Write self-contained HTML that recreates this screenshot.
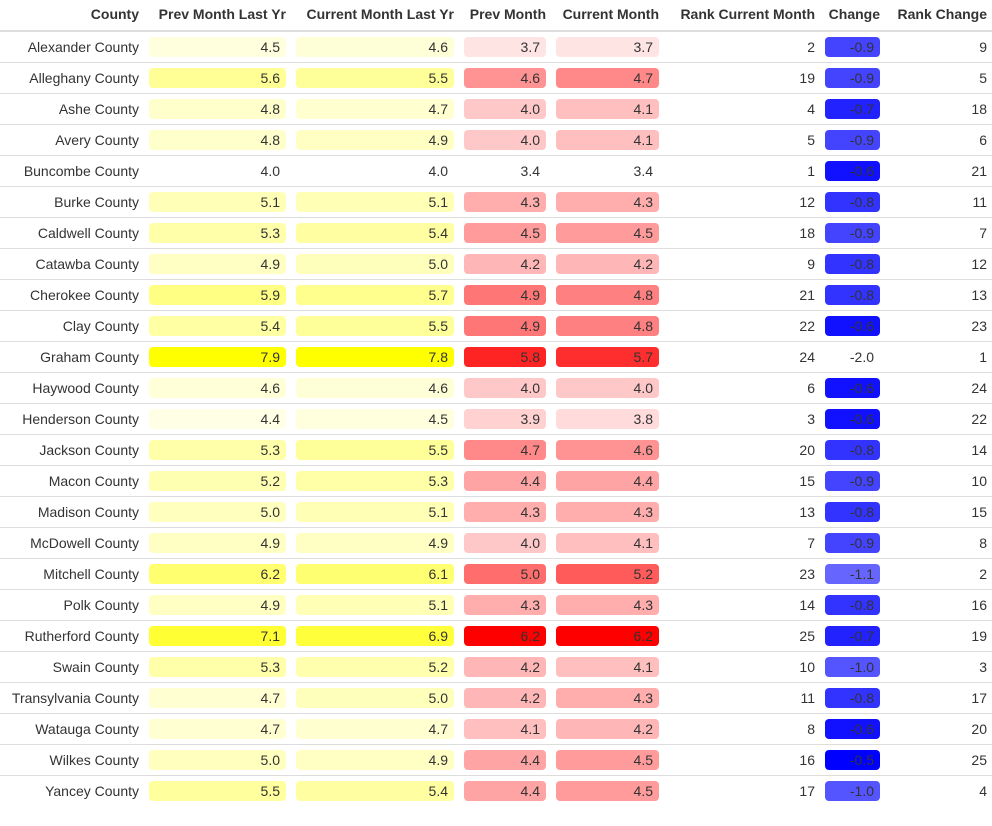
<!DOCTYPE html>
<html><head><meta charset="utf-8">
<style>
body{margin:0;width:992px;height:826px;background:#fff;font-family:"Liberation Sans",Arial,sans-serif;font-size:14px;color:#333;position:relative;overflow:hidden}
.h{position:absolute;top:6px;font-weight:bold;text-align:right;white-space:nowrap}
.c{position:absolute;text-align:right;white-space:nowrap;height:20px;line-height:20px;box-sizing:border-box;padding-right:6px;border-radius:4px}
.line{position:absolute;left:0;width:992px;height:1px;background:#ddd}
</style></head><body>
<div id="tbl"></div>
<script>
const counties=["Alexander County","Alleghany County","Ashe County","Avery County","Buncombe County","Burke County","Caldwell County","Catawba County","Cherokee County","Clay County","Graham County","Haywood County","Henderson County","Jackson County","Macon County","Madison County","McDowell County","Mitchell County","Polk County","Rutherford County","Swain County","Transylvania County","Watauga County","Wilkes County","Yancey County"];
const prevMonthLastYr=[4.5,5.6,4.8,4.8,4.0,5.1,5.3,4.9,5.9,5.4,7.9,4.6,4.4,5.3,5.2,5.0,4.9,6.2,4.9,7.1,5.3,4.7,4.7,5.0,5.5];
const currMonthLastYr=[4.6,5.5,4.7,4.9,4.0,5.1,5.4,5.0,5.7,5.5,7.8,4.6,4.5,5.5,5.3,5.1,4.9,6.1,5.1,6.9,5.2,5.0,4.7,4.9,5.4];
const prevMonth=[3.7,4.6,4.0,4.0,3.4,4.3,4.5,4.2,4.9,4.9,5.8,4.0,3.9,4.7,4.4,4.3,4.0,5.0,4.3,6.2,4.2,4.2,4.1,4.4,4.4];
const currMonth=[3.7,4.7,4.1,4.1,3.4,4.3,4.5,4.2,4.8,4.8,5.7,4.0,3.8,4.6,4.4,4.3,4.1,5.2,4.3,6.2,4.1,4.3,4.2,4.5,4.5];
const rankCurr=[2,19,4,5,1,12,18,9,21,22,24,6,3,20,15,13,7,23,14,25,10,11,8,16,17];
const change=[-0.9,-0.9,-0.7,-0.9,-0.6,-0.8,-0.9,-0.8,-0.8,-0.6,-2.0,-0.6,-0.6,-0.8,-0.9,-0.8,-0.9,-1.1,-0.8,-0.7,-1.0,-0.8,-0.6,-0.5,-1.0];
const rankChange=[9,5,18,6,21,11,7,12,13,23,1,24,22,14,10,15,8,2,16,19,3,17,20,25,4];

const tbl=document.getElementById('tbl');
function add(cls,x,y,w,txt,bg,name){
  const d=document.createElement('div');
  d.className=cls;d.style.left=x+'px';d.style.top=y+'px';d.style.width=w+'px';
  if(bg)d.style.background=bg;
  d.textContent=txt;
  
  
  tbl.appendChild(d);return d;
}
const heads=[["County",0,139],["Prev Month Last Yr",149,286],["Current Month Last Yr",296,454],["Prev Month",464,546],["Current Month",556,659],["Rank Current Month",669,815],["Change",825,880],["Rank Change",890,987]];
heads.forEach(h=>{add('h',h[1],6,h[2]-h[1],h[0],null,'header-'+h[0].toLowerCase().replace(/ /g,'-'));});
const hl=document.createElement('div');hl.className='line';hl.style.top='30px';hl.style.height='2px';


tbl.appendChild(hl);
function scale(arr,v,rgb){
  const mn=Math.min(...arr),mx=Math.max(...arr);const t=(v-mn)/(mx-mn);
  if(t<=0)return null;
  const c=rgb.map(k=>Math.round(255+(k-255)*t));
  return `rgb(${c[0]},${c[1]},${c[2]})`;
}
counties.forEach((n,i)=>{
  const cy=47+31*i, top=cy-10;
  add('c',0,top,139,n,null,'county-name').style.paddingRight='0';
  add('c',149,top,137,prevMonthLastYr[i].toFixed(1),scale(prevMonthLastYr,prevMonthLastYr[i],[255,255,0]),'prev-month-last-yr-tile');
  add('c',296,top,158,currMonthLastYr[i].toFixed(1),scale(currMonthLastYr,currMonthLastYr[i],[255,255,0]),'current-month-last-yr-tile');
  add('c',464,top,82,prevMonth[i].toFixed(1),scale(prevMonth,prevMonth[i],[255,0,0]),'prev-month-tile');
  add('c',556,top,103,currMonth[i].toFixed(1),scale(currMonth,currMonth[i],[255,0,0]),'current-month-tile');
  add('c',669,top,146,String(rankCurr[i]),null,'rank-current-month').style.paddingRight='0';
  add('c',825,top,55,change[i].toFixed(1),scale(change,change[i],[0,0,255]),'change-tile');
  add('c',890,top,97,String(rankChange[i]),null,'rank-change').style.paddingRight='0';
  if(i<counties.length-1){
    const l=document.createElement('div');l.className='line';l.style.top=(cy+15)+'px';
    
    
    tbl.appendChild(l);
  }
});
</script>
</body></html>
